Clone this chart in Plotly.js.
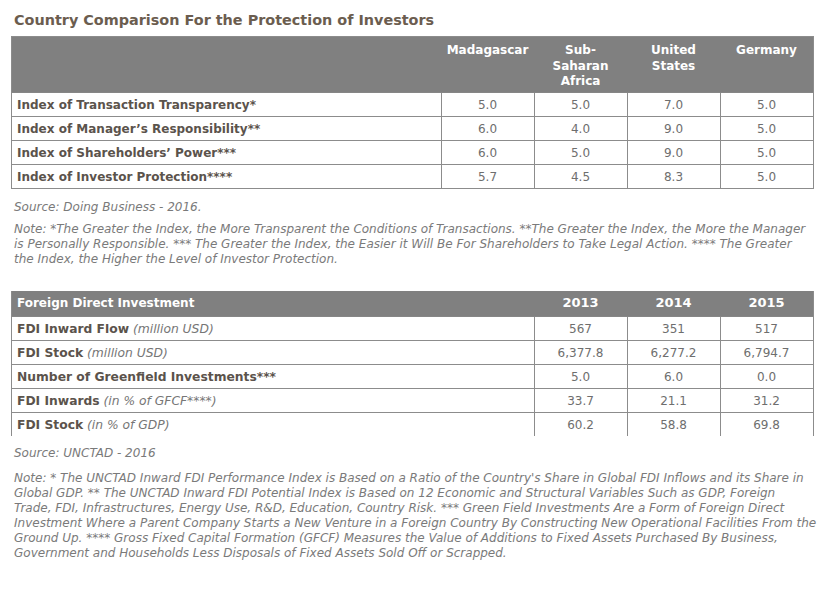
<!DOCTYPE html>
<html>
<head>
<meta charset="utf-8">
<script src="https://cdn.plot.ly/plotly-3.0.1.min.js"></script>
<style>html,body{margin:0;padding:0;background:#fff;}#chart{width:830px;height:594px;}</style>
</head>
<body>
<div id="chart"></div>
<script>
// ---- Data: table 1 ----
var title1 = "Country Comparison For the Protection of Investors";
var countries = ["Madagascar", "Sub-<br>Saharan<br>Africa", "United<br>States", "Germany"];
var indexLabels = ["Index of Transaction Transparency*", "Index of Manager\u2019s Responsibility**",
                   "Index of Shareholders\u2019 Power***", "Index of Investor Protection****"];
var madagascar = ["5.0", "6.0", "6.0", "5.7"];
var subSaharan = ["5.0", "4.0", "5.0", "4.5"];
var unitedStates = ["7.0", "9.0", "9.0", "8.3"];
var germany = ["5.0", "5.0", "5.0", "5.0"];
var source1 = "Source: Doing Business - 2016.";
var note1 = ["Note: *The Greater the Index, the More Transparent the Conditions of Transactions. **The Greater the Index, the More the Manager",
             "is Personally Responsible. *** The Greater the Index, the Easier it Will Be For Shareholders to Take Legal Action. **** The Greater",
             "the Index, the Higher the Level of Investor Protection."];

// ---- Data: table 2 ----
var fdiHeader = "Foreign Direct Investment";
var years = ["2013", "2014", "2015"];
var fdiNames = ["FDI Inward Flow", "FDI Stock", "Number of Greenfield Investments***", "FDI Inwards", "FDI Stock"];
var fdiUnits = ["(million USD)", "(million USD)", "", "(in % of GFCF****)", "(in % of GDP)"];
var fdi2013 = ["567", "6,377.8", "5.0", "33.7", "60.2"];
var fdi2014 = ["351", "6,277.2", "6.0", "21.1", "58.8"];
var fdi2015 = ["517", "6,794.7", "0.0", "31.2", "69.8"];
var source2 = "Source: UNCTAD - 2016";
var note2 = ["Note: * The UNCTAD Inward FDI Performance Index is Based on a Ratio of the Country's Share in Global FDI Inflows and its Share in",
             "Global GDP. ** The UNCTAD Inward FDI Potential Index is Based on 12 Economic and Structural Variables Such as GDP, Foreign",
             "Trade, FDI, Infrastructures, Energy Use, R&D, Education, Country Risk. *** Green Field Investments Are a Form of Foreign Direct",
             "Investment Where a Parent Company Starts a New Venture in a Foreign Country By Constructing New Operational Facilities From the",
             "Ground Up. **** Gross Fixed Capital Formation (GFCF) Measures the Value of Additions to Fixed Assets Purchased By Business,",
             "Government and Households Less Disposals of Fixed Assets Sold Off or Scrapped."];

// ---- Styling / layout constants ----
var W = 830, H = 594;
var FONT = "DejaVu Sans, Verdana, sans-serif";
var LABEL_C = "#5b534c", VAL_C = "#6e6e6e", UNIT_C = "#767676", HEAD_FILL = "#808080", LINE_C = "#8c8c8c", NOTE_C = "#7a7a7a";
var TBL_LEFT = 12, TBL_RIGHT = 813, PAD = 5, TEXT_SHIFT = 1.5;
var T1 = {top: 37, headH: 55, rowH: 24, headTextTop: 8, widths: [429, 93, 93, 93, 93]};
var T2 = {top: 291, headH: 25, rowH: 24, widths: [522, 93, 93, 93]};

function px(x){ return x / W; }
function py(y){ return 1 - y / H; }
function bounds(ws){ var b = [0]; ws.forEach(function(w){ b.push(b[b.length - 1] + w); }); return b; }
function centers(ws){ var b = bounds(ws); return ws.map(function(w, i){ return b[i] + w / 2; }); }
function rowCenters(t, n){ var r = []; for (var i = 0; i < n; i++) r.push(t.headH + (i + 0.5) * t.rowH + TEXT_SHIFT); return r; }
function rowBounds(t, n){ var r = [0]; for (var i = 0; i <= n; i++) r.push(t.headH + i * t.rowH); return r; }
function rep(v, n){ var a = []; for (var i = 0; i < n; i++) a.push(v); return a; }

var traces = [];
function textTrace(xa, ya, xs, ys, texts, pos, font){
  traces.push({type: "scatter", mode: "text", xaxis: xa, yaxis: ya, x: xs, y: ys, text: texts,
    textposition: pos, textfont: font, hoverinfo: "skip", showlegend: false, cliponaxis: false});
}

// ---- Table 1 ----
var n1 = indexLabels.length;
var c1 = centers(T1.widths), rc1 = rowCenters(T1, n1);
textTrace("x", "y", c1.slice(1), rep(T1.headTextTop, countries.length), countries.map(function(c){ return "<b>" + c + "</b>"; }),
  "bottom center", {family: FONT, size: 12, color: "#ffffff"});
textTrace("x", "y", rep(PAD, n1), rc1, indexLabels.map(function(s){ return "<b>" + s + "</b>"; }),
  "middle right", {family: FONT, size: 12, color: LABEL_C});
[madagascar, subSaharan, unitedStates, germany].forEach(function(col, j){
  textTrace("x", "y", rep(c1[j + 1], n1), rc1, col, "middle center", {family: FONT, size: 12, color: VAL_C});
});

// ---- Table 2 ----
var n2 = fdiNames.length;
var c2 = centers(T2.widths), rc2 = rowCenters(T2, n2);
textTrace("x2", "y2", [PAD], [T2.headH / 2 + 0.5], ["<b>" + fdiHeader + "</b>"], "middle right", {family: FONT, size: 12, color: "#ffffff"});
textTrace("x2", "y2", c2.slice(1), rep(T2.headH / 2 + 0.5, years.length), years.map(function(y){ return "<b>" + y + "</b>"; }),
  "middle center", {family: FONT, size: 13, color: "#ffffff"});
textTrace("x2", "y2", rep(PAD, n2), rc2, fdiNames.map(function(n, i){
    return "<b>" + n + "</b>" + (fdiUnits[i] ? " <i><span style='color:" + UNIT_C + "'>" + fdiUnits[i] + "</span></i>" : "");
  }), "middle right", {family: FONT, size: 12.3, color: LABEL_C});
[fdi2013, fdi2014, fdi2015].forEach(function(col, j){
  textTrace("x2", "y2", rep(c2[j + 1], n2), rc2, col, "middle center", {family: FONT, size: 12, color: VAL_C});
});

// ---- Axes (grid lines = cell borders) ----
function xAx(t){
  var b = bounds(t.widths);
  return {domain: [px(TBL_LEFT), px(TBL_RIGHT)], range: [0, b[b.length - 1]], tickmode: "array", tickvals: b,
    showticklabels: false, ticks: "", showgrid: true, gridcolor: LINE_C, gridwidth: 1, zeroline: false,
    showline: true, mirror: true, linecolor: LINE_C, linewidth: 1, fixedrange: true};
}
function yAx(t, n, anchor){
  var rb = rowBounds(t, n), total = rb[rb.length - 1];
  return {domain: [py(t.top + total), py(t.top)], range: [total, 0], tickmode: "array", tickvals: rb,
    showticklabels: false, ticks: "", showgrid: true, gridcolor: LINE_C, gridwidth: 1, zeroline: false,
    showline: true, mirror: true, linecolor: LINE_C, linewidth: 1, fixedrange: true, anchor: anchor};
}

var shapes = [
  {type: "rect", xref: "x", yref: "y", x0: 0, x1: bounds(T1.widths).pop(), y0: 0, y1: T1.headH,
   fillcolor: HEAD_FILL, line: {width: 1, color: HEAD_FILL}, layer: "between"},
  {type: "rect", xref: "x2", yref: "y2", x0: 0, x1: bounds(T2.widths).pop(), y0: 0, y1: T2.headH,
   fillcolor: HEAD_FILL, line: {width: 1, color: HEAD_FILL}, layer: "between"}
];

var ann = [];
ann.push({text: "<b>" + title1 + "</b>", x: px(12), y: py(20), xref: "paper", yref: "paper",
  xanchor: "left", yanchor: "middle", showarrow: false, font: {family: FONT, size: 14.4, color: "#6b5d4f"}});
function noteLine(t, y){
  ann.push({text: "<i>" + t + "</i>", x: px(12), y: py(y), xref: "paper", yref: "paper",
    xanchor: "left", yanchor: "middle", showarrow: false, font: {family: FONT, size: 12, color: NOTE_C}});
}
noteLine(source1, 207);
note1.forEach(function(t, i){ noteLine(t, 229 + 15 * i); });
noteLine(source2, 453);
note2.forEach(function(t, i){ noteLine(t, 478 + 15 * i); });

Plotly.newPlot("chart", traces, {
  width: W, height: H, margin: {l: 0, r: 0, t: 0, b: 0},
  paper_bgcolor: "#ffffff", plot_bgcolor: "#ffffff",
  xaxis: xAx(T1), yaxis: yAx(T1, n1, "x"),
  xaxis2: xAx(T2), yaxis2: yAx(T2, n2, "x2"),
  shapes: shapes, annotations: ann, showlegend: false, hovermode: false
}, {displayModeBar: false, staticPlot: true});
</script>
</body>
</html>
